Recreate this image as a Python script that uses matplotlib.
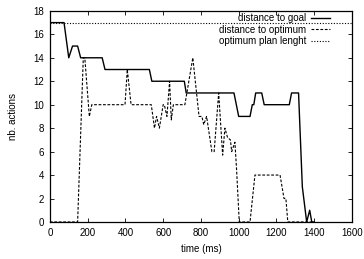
import matplotlib
matplotlib.use("Agg")
import matplotlib.pyplot as plt

# ---- data ----
goal_t = [0, 75, 100, 120, 147, 163, 277, 292, 527, 540, 712, 722, 975, 1000,
          1060, 1072, 1080, 1090, 1122, 1135, 1268, 1280, 1317, 1337, 1360,
          1376, 1387, 1400]
goal_v = [17, 17, 14, 15, 15, 14, 14, 13, 13, 12, 12, 11, 11, 9,
          9, 10, 10, 11, 11, 10, 10, 11, 11, 3, 0,
          1, 0, 0]

opt_t = [0, 147, 177, 185, 209, 222, 398, 410, 430, 537, 554, 565, 580, 600,
         606, 620, 634, 643, 654, 715, 757, 790, 805, 815, 830, 858, 870, 894,
         915, 927, 941, 956, 963, 980, 989, 1003, 1060, 1086, 1219, 1240, 1250,
         1260, 1400]
opt_v = [0, 0, 14, 14, 9, 10, 10, 13, 10, 10, 8, 9, 8, 10,
         10, 9, 12, 8.7, 10, 10, 14, 9, 9, 8.3, 9, 6, 6, 11,
         5.7, 8, 7.2, 7, 6, 6.8, 4.4, 0, 0, 4, 4, 2, 2,
         0, 0]

plan_t = [0, 1600]
plan_v = [17, 17]

xticks = list(range(0, 1601, 200))
yticks = list(range(0, 19, 2))

plt.rcParams['font.family'] = ['Liberation Sans', 'DejaVu Sans']
plt.rcParams['font.size'] = 7

fig = plt.figure(figsize=(3.64, 2.59), dpi=100)
ax = fig.add_axes([0.137, 0.143, 0.830, 0.815])

ax.plot(goal_t, goal_v, '-', color='black', lw=1.0, label='distance to goal')
ax.plot(opt_t, opt_v, color='black', lw=0.8, linestyle=(0, (2.5, 1.5)),
        label='distance to optimum')
ax.plot(plan_t, plan_v, color='black', lw=0.8, linestyle=(0, (1, 1.5)),
        label='optimum plan lenght')

ax.set_xlim(0, 1600)
ax.set_ylim(0, 18)
ax.set_xticks(xticks)
ax.set_yticks(yticks)
ax.tick_params(direction='in', top=True, right=True, length=3, width=0.6,
               labelsize=7, pad=4)
for sp in ax.spines.values():
    sp.set_linewidth(0.9)

ax.set_xlabel('time (ms)', fontsize=7, labelpad=5)
ax.set_ylabel('nb. actions', fontsize=7, labelpad=11)

# gnuplot style key: right aligned text, sample after it
ax.legend(loc='upper right', bbox_to_anchor=(0.927, 0.99), frameon=False,
          markerfirst=False, alignment='right', fontsize=7,
          handlelength=1.9, handletextpad=0.5, labelspacing=0.17,
          borderaxespad=0.0, borderpad=0.0)

fig.savefig('out.png', dpi=100)
